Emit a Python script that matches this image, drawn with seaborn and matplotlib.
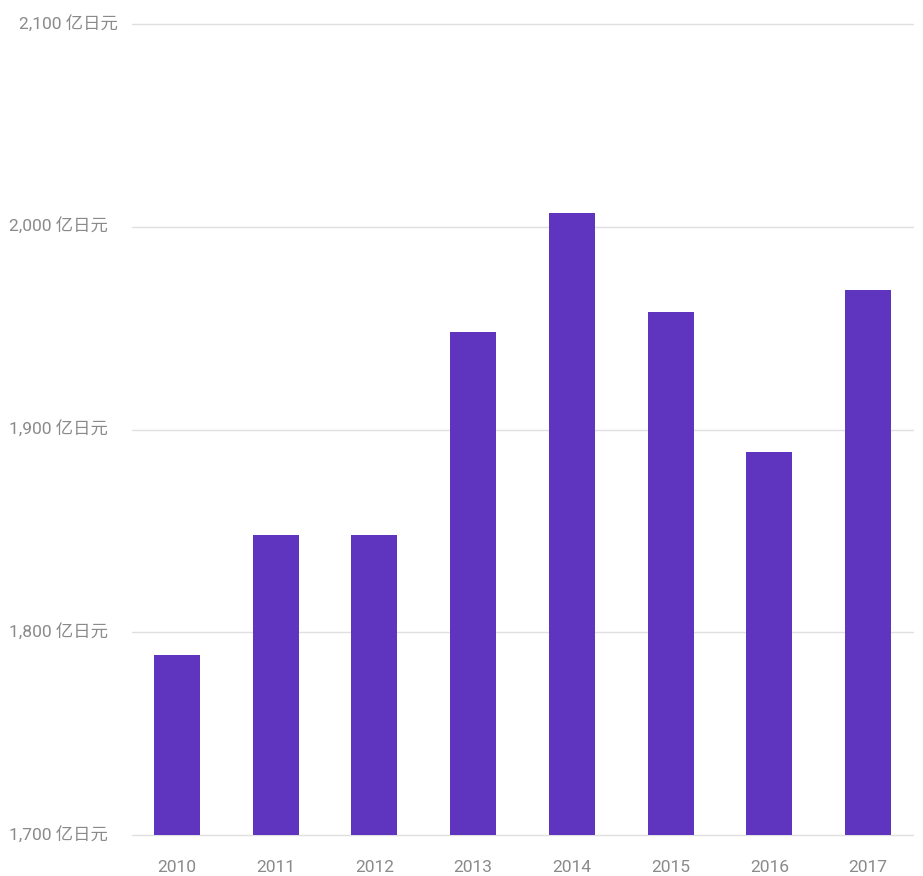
import matplotlib
matplotlib.use("Agg")
import matplotlib.pyplot as plt
import matplotlib.transforms as mtransforms
import seaborn as sns
import pandas as pd

years = ["2010", "2011", "2012", "2013", "2014", "2015", "2016", "2017"]
values = [1789, 1848, 1848, 1948, 2007, 1958, 1889, 1969]
yticks = [1700, 1800, 1900, 2000, 2100]
ytick_labels = ["1,700 亿日元", "1,800 亿日元", "1,900 亿日元", "2,000 亿日元", "2,100 亿日元"]

sns.set_theme(style="white")
plt.rcParams['font.family'] = ['Roboto', 'Noto Sans CJK SC', 'DejaVu Sans']

df = pd.DataFrame({"year": years, "value": values})

W, H = 923, 876
fig = plt.figure(figsize=(W / 100, H / 100), dpi=100)
left, right = 127.6, 917.4
top, bottom = 24, 835
ax = fig.add_axes([left / W, 1 - bottom / H, (right - left) / W, (bottom - top) / H])

# grid lines (slightly inset like the reference)
x0 = (132 - left) / (right - left)
x1 = (913 - left) / (right - left)
for t in yticks:
    ax.axhline(t, xmin=x0, xmax=x1, color="#e0e0e0", linewidth=1, zorder=0, clip_on=False)

sns.barplot(data=df, x="year", y="value", color="#5f34bf", width=0.466,
            saturation=1, ax=ax, edgecolor="none", zorder=2)

ax.set_ylim(1700, 2100)
ax.set_yticks(yticks)
ax.set_yticklabels(ytick_labels)
for s in ["top", "right", "left", "bottom"]:
    ax.spines[s].set_visible(False)
ax.set_xlabel("")
ax.set_ylabel("")
ax.tick_params(axis="y", length=0, pad=14, labelsize=12.5, labelcolor="#8a8a8a")
ax.tick_params(axis="x", length=0, pad=18, labelsize=12.5, labelcolor="#8a8a8a")

# y labels sit slightly above their grid lines; top label shifted right
labs = ax.get_yticklabels()
for i, lab in enumerate(labs):
    dx = 10 / 100 if i == len(labs) - 1 else 0
    lab.set_transform(lab.get_transform() + mtransforms.ScaledTranslation(dx, 2.5 / 100, fig.dpi_scale_trans))

fig.savefig("out.png", dpi=100)
